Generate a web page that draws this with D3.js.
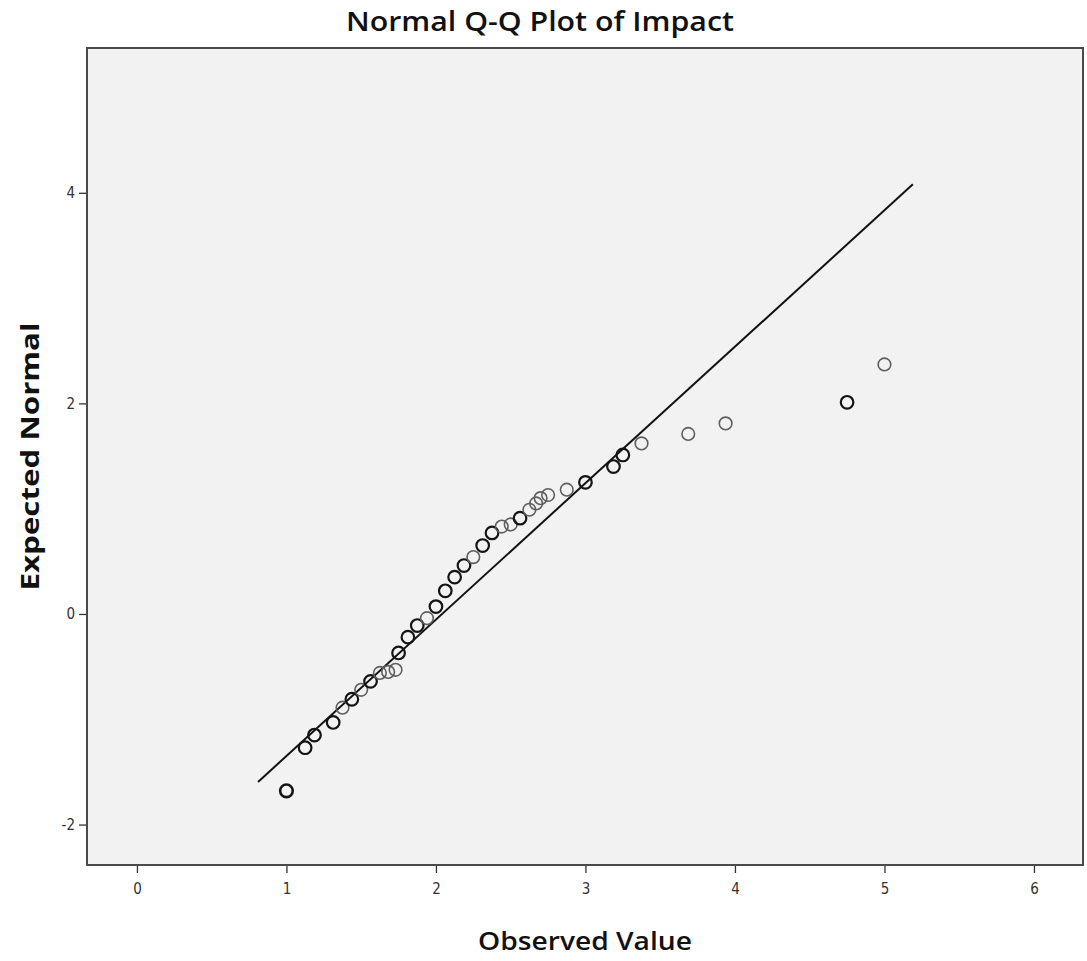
<!DOCTYPE html>
<html>
<head>
<meta charset="utf-8">
<script src="https://cdn.jsdelivr.net/npm/d3@7/dist/d3.min.js"></script>
<style>
  html, body { margin: 0; padding: 0; background: #ffffff; }
  svg { display: block; }
</style>
</head>
<body>
<svg id="chart" width="1087" height="961"></svg>
<script>
// Observed values of Impact and their expected normal quantiles
const observed = [1.0, 1.125, 1.1875, 1.3125, 1.375, 1.4375, 1.5, 1.5625, 1.625, 1.68, 1.73,
  1.75, 1.8125, 1.875, 1.94, 2.0, 2.0625, 2.125, 2.1875, 2.25, 2.3125, 2.375, 2.44, 2.5,
  2.5625, 2.625, 2.67, 2.70, 2.75, 2.875, 3.0, 3.1875, 3.25, 3.375, 3.6875, 3.9375, 4.75, 5.0];
const expected = [-1.68, -1.27, -1.15, -1.03, -0.89, -0.81, -0.72, -0.64, -0.56, -0.55, -0.53,
  -0.37, -0.22, -0.11, -0.04, 0.07, 0.22, 0.35, 0.46, 0.54, 0.65, 0.77, 0.83, 0.85,
  0.91, 0.99, 1.05, 1.10, 1.13, 1.18, 1.25, 1.40, 1.51, 1.62, 1.71, 1.81, 2.01, 2.37];
// Number of tied cases plotted at each point
const ties = [3, 2, 2, 2, 1, 2, 1, 2, 1, 1, 1,
  2, 2, 2, 1, 2, 2, 2, 2, 1, 2, 2, 1, 1,
  2, 1, 1, 1, 1, 1, 2, 2, 2, 1, 1, 1, 2, 1];

// Reference line end points (observed, expected)
const lineObserved = [0.81, 5.19];
const lineExpected = [-1.595, 4.08];

const xTicks = [0, 1, 2, 3, 4, 5, 6];
const yTicks = [-2, 0, 2, 4];

const titleText = "Normal Q-Q Plot of Impact";
const xTitle = "Observed Value";
const yTitle = "Expected Normal";

const svg = d3.select("#chart");
const plot = { left: 87, right: 1083, top: 48, bottom: 865 };

const x = d3.scaleLinear().domain([-0.334, 6.328]).range([plot.left, plot.right]);
const y = d3.scaleLinear().domain([-2.384, 5.375]).range([plot.bottom, plot.top]);

const tickFont = "'DejaVu Sans Condensed', 'Liberation Sans Narrow', 'DejaVu Sans', sans-serif";
const titleFont = "'Open Sans', 'DejaVu Sans', sans-serif";

// Plot area
svg.append("rect")
  .attr("x", plot.left).attr("y", plot.top)
  .attr("width", plot.right - plot.left).attr("height", plot.bottom - plot.top)
  .attr("fill", "#f2f2f2");

// Axes
const xAxis = d3.axisBottom(x).tickValues(xTicks).tickSize(8).tickPadding(10).tickFormat(d3.format("d"));
const yAxis = d3.axisLeft(y).tickValues(yTicks).tickSize(8).tickPadding(4).tickFormat(d => d < 0 ? "-" + Math.abs(d) : String(d));

const gx = svg.append("g").attr("transform", `translate(0,${plot.bottom})`).call(xAxis);
const gy = svg.append("g").attr("transform", `translate(${plot.left},0)`).call(yAxis);
[gx, gy].forEach(g => {
  g.select(".domain").remove();
  g.selectAll(".tick line").attr("stroke", "#333").attr("stroke-width", 1.3);
  g.selectAll(".tick text")
    .attr("fill", "#333")
    .style("font-family", tickFont)
    .style("font-size", "15px");
});

// Reference line
svg.append("line")
  .attr("x1", x(lineObserved[0])).attr("y1", y(lineExpected[0]))
  .attr("x2", x(lineObserved[1])).attr("y2", y(lineExpected[1]))
  .attr("stroke", "#111").attr("stroke-width", 2);

// Points
const pts = observed.map((v, i) => ({ x: v, y: expected[i], n: ties[i] }));
svg.append("g").selectAll("circle")
  .data(pts)
  .join("circle")
  .attr("cx", d => x(d.x))
  .attr("cy", d => y(d.y))
  .attr("r", 6.3)
  .attr("fill", "none")
  .attr("stroke", d => d.n >= 2 ? "#141414" : "#5e5e5e")
  .attr("stroke-width", d => d.n >= 3 ? 2.6 : d.n === 2 ? 2.2 : 1.6);

// Frame
svg.append("rect")
  .attr("x", plot.left).attr("y", plot.top)
  .attr("width", plot.right - plot.left).attr("height", plot.bottom - plot.top)
  .attr("fill", "none")
  .attr("stroke", "#4a4a4a")
  .attr("stroke-width", 2);

// Titles
svg.append("text")
  .attr("x", 540).attr("y", 31)
  .attr("text-anchor", "middle")
  .attr("textLength", 388).attr("lengthAdjust", "spacingAndGlyphs")
  .style("font-family", titleFont).style("font-weight", "600").style("font-size", "27px")
  .attr("fill", "#111")
  .text(titleText);

svg.append("text")
  .attr("x", (plot.left + plot.right) / 2).attr("y", 950)
  .attr("text-anchor", "middle")
  .attr("textLength", 214).attr("lengthAdjust", "spacingAndGlyphs")
  .style("font-family", titleFont).style("font-weight", "600").style("font-size", "26px")
  .attr("fill", "#111")
  .text(xTitle);

svg.append("text")
  .attr("transform", `translate(39,${(plot.top + plot.bottom) / 2}) rotate(-90)`)
  .attr("text-anchor", "middle")
  .attr("textLength", 268).attr("lengthAdjust", "spacingAndGlyphs")
  .style("font-family", titleFont).style("font-weight", "bold").style("font-size", "25px")
  .attr("fill", "#111")
  .text(yTitle);
</script>
</body>
</html>
